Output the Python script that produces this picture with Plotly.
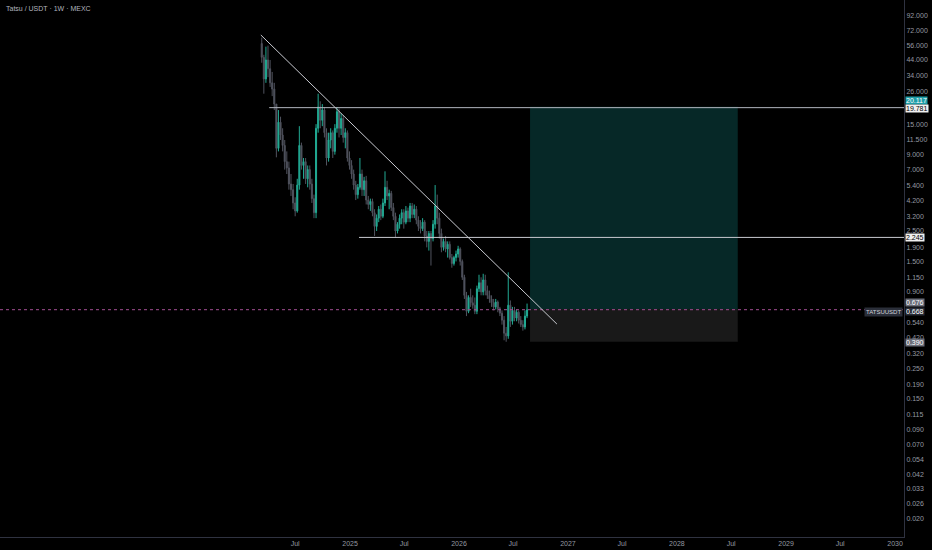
import numpy as np
import pandas as pd
import plotly.graph_objects as go

# ---- weekly candles (Tatsu / USDT, 1W, MEXC) ----
start_date = "2024-03-11"
opens = [58, 46, 32, 44, 38, 30, 27, 21, 10, 15.5, 12.5, 10.5, 8, 7.2, 5.5, 5, 4, 3.5, 5.4, 10.5,
         7.5, 8, 6, 7, 5.5, 4.3, 3.4, 14, 20, 16, 19, 13, 8.5, 11.5, 13, 9.5, 14, 18.5, 14, 16.5,
         12, 13, 8.5, 7.5, 6.5, 5.4, 4.6, 5.2, 6.5, 5, 5.8, 4.2, 3.9, 4.1, 3.4, 2.7, 3.1, 3.6, 3.2, 4.0,
         5.2, 4.5, 4.7, 3.7, 3.2, 2.5, 2.8, 3.1, 3.4, 2.9, 3.5, 3.1, 3.8, 3.3, 3.6, 3.0, 2.7, 2.6, 2.9, 2.3,
         2.1, 2.4, 2.2, 2.8, 3.8, 3.1, 2.4, 1.9, 2.1, 1.85, 2.0, 1.6, 1.45, 1.6, 1.7, 1.85, 1.5, 1.15, 0.85, 0.65,
         0.82, 0.75, 0.72, 0.65, 0.95, 1.05, 0.9, 1.1, 0.92, 0.85, 0.8, 0.75, 0.7, 0.76, 0.68, 0.63, 0.56, 0.45, 0.43, 0.72,
         0.55, 0.66, 0.58, 0.64, 0.56, 0.52, 0.5, 0.6]
highs = [64, 48, 55, 56, 44, 36, 30, 21, 19, 17, 14, 11.5, 9.5, 8, 6.5, 5.5, 4.4, 6, 14.5, 11,
         8.5, 8.5, 7.5, 7.5, 6, 4.6, 15, 25, 22, 21, 20, 14, 13, 14, 13.5, 15, 20, 19.5, 18, 17.5,
         14, 13.5, 9.5, 8.2, 7, 5.8, 5.5, 8.5, 7, 6.2, 6.3, 4.5, 4.3, 4.3, 3.6, 3.3, 3.8, 3.9, 4.3, 6.8,
         5.8, 5.0, 4.9, 4.0, 3.4, 2.9, 3.3, 3.6, 3.6, 3.8, 3.7, 4.0, 4.0, 3.9, 3.8, 3.2, 3.0, 3.1, 3.0, 2.5,
         2.5, 2.5, 3.0, 5.4, 4.6, 3.4, 2.6, 2.2, 2.3, 2.1, 2.1, 1.7, 1.65, 1.8, 1.95, 1.9, 1.55, 1.2, 0.9, 0.85,
         0.95, 0.85, 0.82, 1.0, 1.2, 1.15, 1.22, 1.2, 1.0, 0.92, 0.85, 0.8, 0.8, 0.78, 0.7, 0.66, 0.6, 0.5, 1.25, 0.78,
         0.7, 0.7, 0.67, 0.66, 0.6, 0.56, 0.66, 0.74]
lows = [42, 25, 30, 33, 28, 24, 19, 8.6, 9.5, 11.5, 9.5, 7, 6.5, 5, 4.5, 3.6, 3.2, 3.4, 5, 7,
        6, 5.5, 5.2, 5, 4, 3.1, 3.1, 13, 14, 14.5, 12, 7.5, 8, 10, 8.5, 9, 13, 12, 12.5, 11,
        10, 8, 7, 6, 5, 4.2, 4.3, 5, 4.5, 4.5, 3.9, 3.6, 3.5, 3.2, 2.3, 2.5, 2.9, 3.0, 3.1, 3.8,
        4.2, 3.6, 3.5, 3.0, 2.25, 2.4, 2.6, 2.8, 2.6, 2.8, 2.9, 2.9, 3.1, 3.1, 2.8, 2.5, 2.4, 2.5, 2.1, 1.9,
        1.8, 1.4, 2.1, 2.6, 2.8, 2.2, 1.75, 1.8, 1.75, 1.6, 1.55, 1.35, 1.4, 1.5, 1.6, 1.4, 1.1, 0.8, 0.6, 0.63,
        0.7, 0.68, 0.62, 0.62, 0.9, 0.85, 0.85, 0.85, 0.8, 0.75, 0.7, 0.66, 0.67, 0.64, 0.6, 0.52, 0.4, 0.39, 0.41, 0.5,
        0.52, 0.55, 0.55, 0.53, 0.5, 0.47, 0.48, 0.58]
closes = [46, 32, 44, 38, 30, 27, 21, 10, 15.5, 12.5, 10.5, 8, 7.2, 5.5, 5, 4, 3.5, 5.4, 10.5, 7.5,
          8, 6, 7, 5.5, 4.3, 3.4, 14, 20, 16, 19, 13, 8.5, 11.5, 13, 9.5, 14, 18.5, 14, 16.5, 12,
          13, 8.5, 7.5, 6.5, 5.4, 4.6, 5.2, 6.5, 5, 5.8, 4.2, 3.9, 4.1, 3.4, 2.7, 3.1, 3.6, 3.2, 4.0, 5.2,
          4.5, 4.7, 3.7, 3.2, 2.5, 2.8, 3.1, 3.4, 2.9, 3.5, 3.1, 3.8, 3.3, 3.6, 3.0, 2.7, 2.6, 2.9, 2.3, 2.1,
          2.4, 2.2, 2.8, 3.8, 3.1, 2.4, 1.9, 2.1, 1.85, 2.0, 1.6, 1.45, 1.6, 1.7, 1.85, 1.5, 1.15, 0.85, 0.65, 0.82,
          0.75, 0.72, 0.65, 0.95, 1.05, 0.9, 1.1, 0.92, 0.85, 0.8, 0.75, 0.7, 0.76, 0.68, 0.63, 0.56, 0.45, 0.43, 0.72, 0.55,
          0.66, 0.58, 0.64, 0.56, 0.52, 0.5, 0.6, 0.668]

# ---- drawings ----
trend_dates = ["2024-03-08", "2026-11-25"]
trend_prices = [66.9, 0.525]
level_top = 19.781
level_top_start = "2024-04-05"
level_mid = 2.245
level_mid_start = "2025-01-31"
last_price = 0.668
box_dates = ["2026-08-27", "2028-07-23"]
target_price = 20.117
entry_price = 0.676
stop_price = 0.390

x_range = ["2021-10-16", "2030-01-31"]
x_tick_dates = ["2024-07-01", "2025-01-01", "2025-07-01", "2026-01-01", "2026-07-01", "2027-01-01",
                "2027-07-01", "2028-01-01", "2028-07-01", "2029-01-01", "2029-07-01", "2030-01-01"]
x_tick_text = ["Jul", "2025", "Jul", "2026", "Jul", "2027", "Jul", "2028", "Jul", "2029", "Jul", "2030"]
y_ticks = [92, 72, 56, 44, 34, 26, 15, 11.5, 9, 7, 5.4, 4.2, 3.2, 2.5, 1.9, 1.5, 1.15, 0.9,
           0.54, 0.42, 0.32, 0.25, 0.19, 0.15, 0.115, 0.09, 0.07, 0.054, 0.042, 0.033, 0.026, 0.02]

dates = pd.date_range(start_date, periods=len(closes), freq="7D")

UP = "#22ab94"
DOWN = "#50535e"
LINE = "#b2b5be"

fig = go.Figure()

# long-position boxes
fig.add_trace(go.Scatter(x=[box_dates[0], box_dates[1], box_dates[1], box_dates[0], box_dates[0]],
                         y=[entry_price, entry_price, target_price, target_price, entry_price],
                         fill="toself", fillcolor="#062827", line=dict(width=0), mode="lines",
                         hoverinfo="skip", showlegend=False))
fig.add_trace(go.Scatter(x=[box_dates[0], box_dates[1], box_dates[1], box_dates[0], box_dates[0]],
                         y=[stop_price, stop_price, entry_price, entry_price, stop_price],
                         fill="toself", fillcolor="#191919", line=dict(width=0), mode="lines",
                         hoverinfo="skip", showlegend=False))

# current price dotted line
fig.add_trace(go.Scatter(x=x_range, y=[last_price, last_price], mode="lines",
                         line=dict(color="#a24e92", width=1, dash="dot"),
                         hoverinfo="skip", showlegend=False))

fig.add_trace(go.Candlestick(x=dates, open=opens, high=highs, low=lows, close=closes,
                             increasing=dict(line=dict(color=UP, width=1), fillcolor=UP),
                             decreasing=dict(line=dict(color=DOWN, width=1), fillcolor=DOWN),
                             whiskerwidth=0, showlegend=False))

# horizontal levels
fig.add_trace(go.Scatter(x=[level_top_start, x_range[1]], y=[level_top, level_top], mode="lines",
                         line=dict(color=LINE, width=1), hoverinfo="skip", showlegend=False))
fig.add_trace(go.Scatter(x=[level_mid_start, x_range[1]], y=[level_mid, level_mid], mode="lines",
                         line=dict(color="#c8cad0", width=1), hoverinfo="skip", showlegend=False))
# trendline
fig.add_trace(go.Scatter(x=trend_dates, y=trend_prices, mode="lines",
                         line=dict(color="#c8cad0", width=1), hoverinfo="skip", showlegend=False))

def price_label(value, bg, fg, yshift=0):
    fig.add_annotation(xref="paper", yref="y", x=1, y=np.log10(value), xanchor="left",
                       yanchor="middle", text=f"{value:.3f}", showarrow=False, yshift=yshift,
                       font=dict(size=7, color=fg, family="Liberation Sans"), bgcolor=bg,
                       borderpad=0, xshift=1)

price_label(target_price, "#1e9ea8", "#ffffff", yshift=6)
price_label(level_top, "#f0f0f0", "#000000", yshift=-1)
price_label(level_mid, "#f0f0f0", "#000000")
price_label(entry_price, "#6a6d78", "#ffffff", yshift=6)
price_label(last_price, "#2a2e39", "#ffffff", yshift=-2)
price_label(stop_price, "#6a6d78", "#ffffff", yshift=-1)
fig.add_annotation(xref="paper", yref="y", x=1, y=np.log10(last_price), xanchor="right",
                   yanchor="middle", text="TATSUUSDT", showarrow=False, yshift=-2, xshift=-1,
                   font=dict(size=6, color="#d1d4dc", family="Liberation Sans"), bgcolor="#2a2e39",
                   borderpad=1)

fig.add_annotation(xref="paper", yref="paper", x=0.004, y=0.995, xanchor="left", yanchor="top",
                   text="Tatsu / USDT · 1W · MEXC", showarrow=False,
                   font=dict(size=7, color="#b2b5be", family="Liberation Sans"))

fig.update_layout(
    width=932, height=550,
    margin=dict(l=0, r=28, t=0, b=13),
    paper_bgcolor="#000000", plot_bgcolor="#000000",
    showlegend=False,
    xaxis=dict(type="date", range=x_range, showgrid=False, zeroline=False,
               rangeslider=dict(visible=False),
               tickvals=x_tick_dates, ticktext=x_tick_text, ticks="",
               tickfont=dict(size=7, color="#9598a1", family="Liberation Sans"),
               showline=True, linecolor="#2f3240", linewidth=1, fixedrange=True),
    yaxis=dict(type="log", side="right", range=[-1.8308, 2.0803], showgrid=False,
               zeroline=False, tickvals=y_ticks, ticktext=[f"{v:.3f}" for v in y_ticks], ticks="",
               tickfont=dict(size=7, color="#9598a1", family="Liberation Sans"),
               showline=True, linecolor="#2f3240", linewidth=1, fixedrange=True),
)

fig.write_html("out.html", config={"displayModeBar": False},
               post_script="document.body.style.margin='0';document.body.style.background='#000';")
